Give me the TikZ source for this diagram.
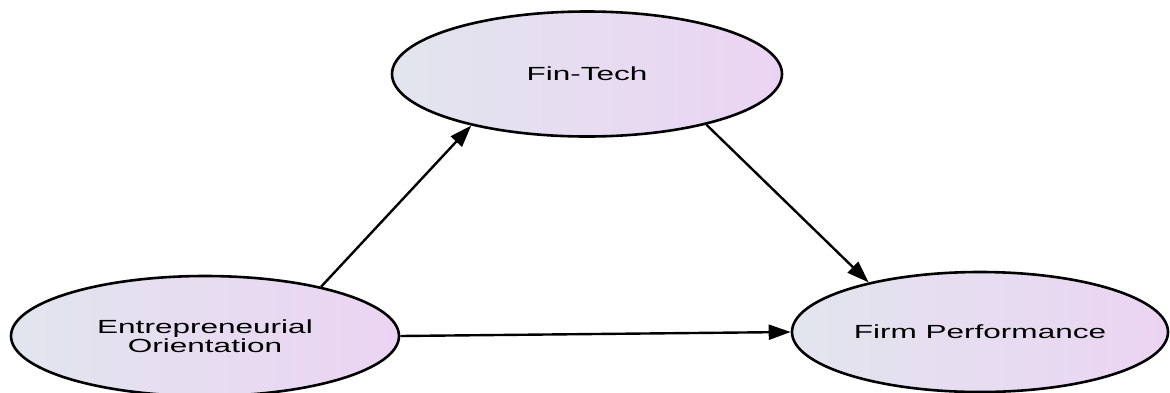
\documentclass[tikz,border=0pt]{standalone}
\usepackage{fontspec}
\setmainfont{Liberation Sans}
\usepackage{graphicx}
\usetikzlibrary{shapes.geometric}
\usetikzlibrary{arrows.meta}
\definecolor{leftfill}{RGB}{226,229,238}
\definecolor{rightfill}{RGB}{235,212,243}
\newcommand{\wide}[1]{\scalebox{1.66}[1]{#1}}
\tikzset{construct/.style = {ellipse, draw, line width = 2.6pt, inner sep = 0,
                             left color = leftfill, right color = rightfill,
                             align = center, font = \fontsize{19}{16}\selectfont}}
\tikzset{link/.style = {line width = 2.4pt,
                        -{Triangle[length = 22pt, width = 15pt]}}}

\begin{document}
\begin{tikzpicture}[x = 1pt, y = -1pt]
    \useasboundingbox (0, 0) rectangle (1170, 392);
    \clip (0, 0) rectangle (1170, 392);

    \node [construct, minimum width = 390, minimum height = 125] (ft) at (587, 74) {\wide{Fin-Tech}};
    \node [construct, minimum width = 388, minimum height = 120] (eo) at (205, 336)
        {\wide{Entrepreneurial}\\\wide{Orientation}};
    \node [construct, minimum width = 376, minimum height = 120] (fp) at (980, 332) {\wide{Firm Performance}};

    \draw [link] (eo.23) -- (ft.204);
    \draw [link] (ft.-23) -- (fp.156);
    \draw [link] (eo.east) -- (fp.west);
  \end{tikzpicture}
\end{document}
